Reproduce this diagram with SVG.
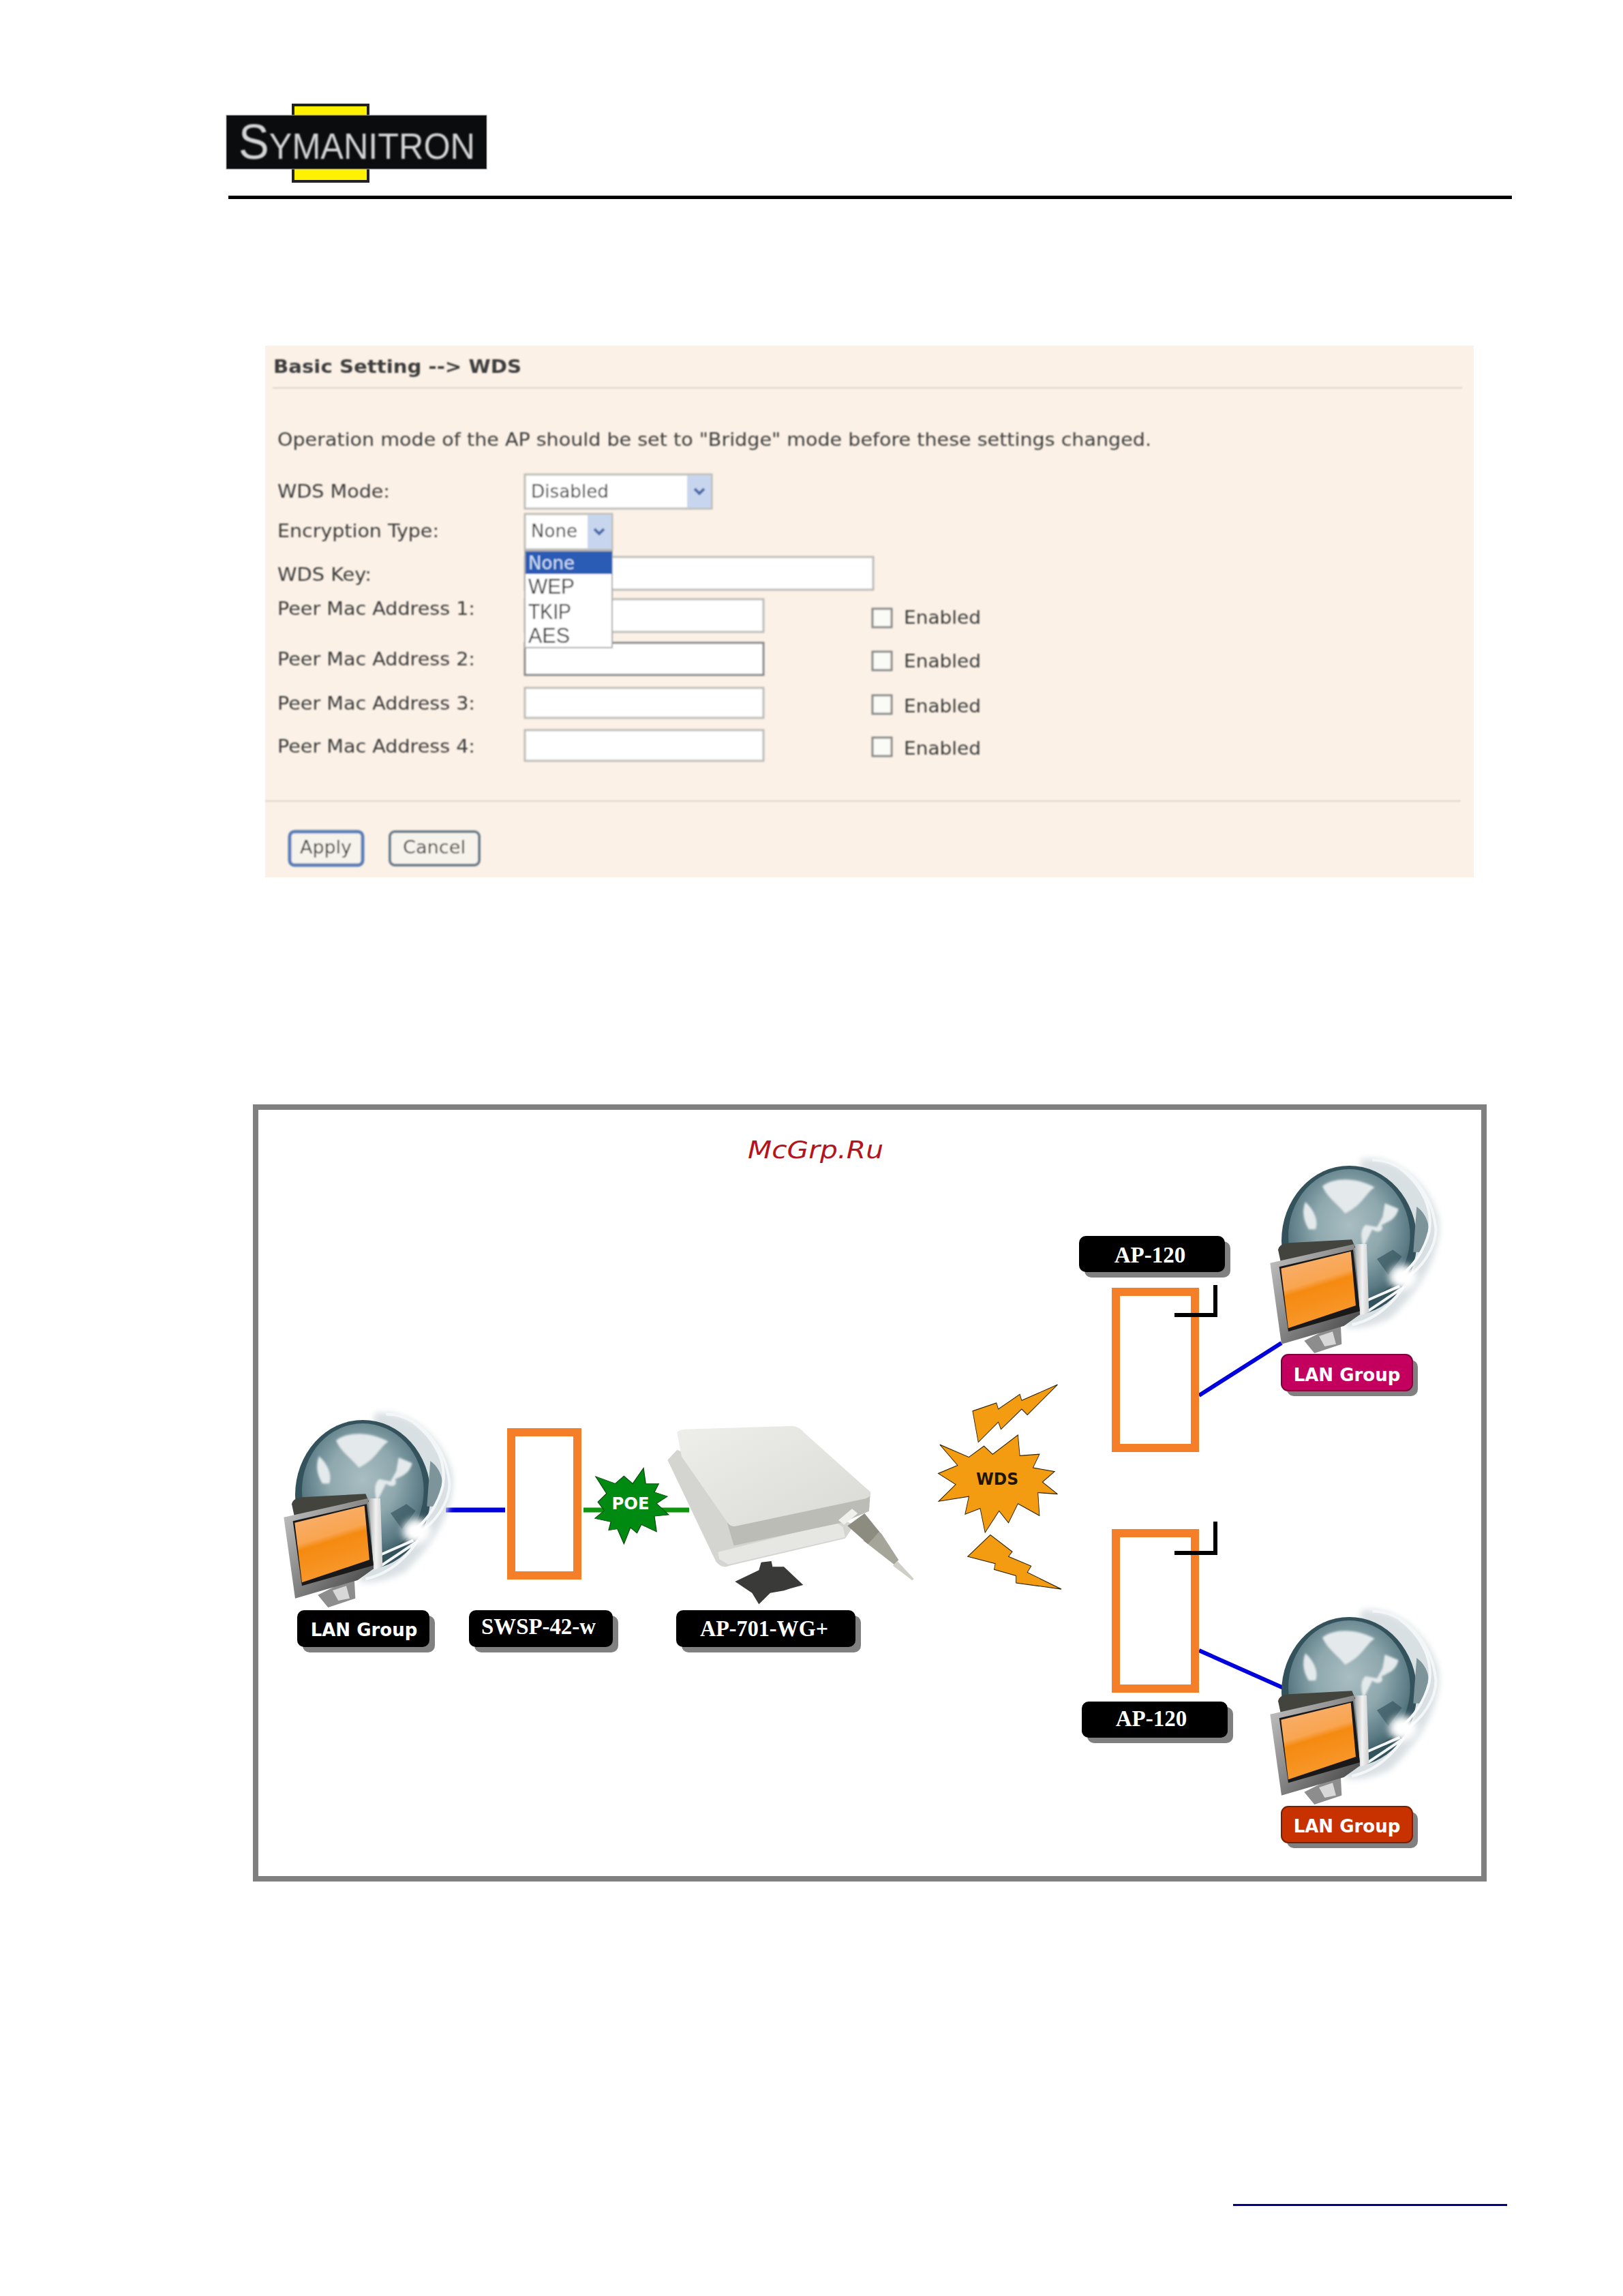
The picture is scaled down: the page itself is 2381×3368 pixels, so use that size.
<svg xmlns="http://www.w3.org/2000/svg" xmlns:xlink="http://www.w3.org/1999/xlink" width="2381" height="3368" viewBox="0 0 2381 3368">
<style>
.f{font-family:"DejaVu Sans",Verdana,sans-serif;font-size:27px;fill:#3c3c3c}
.o{font-family:"Liberation Sans",Arial,sans-serif;font-size:31px;fill:#333}
.in{fill:#fff;stroke:#bdbdb8;stroke-width:3}
.cb{fill:#fafaf6;stroke:#8a8a8a;stroke-width:3}
.btn{fill:#f6f3ec;stroke:#6d7f8c;stroke-width:4}
.lb{fill:#000}
.sh{fill:#808080}
.s{font-family:"Liberation Serif","Times New Roman",serif;font-weight:bold;font-size:33px;fill:#fff;text-anchor:middle}
.g{font-family:"DejaVu Sans",Verdana,sans-serif;font-weight:bold;font-size:26px;fill:#fff;text-anchor:middle}
.or{fill:#fff;stroke:#f57f28;stroke-width:12}
.wire{fill:none;stroke:#0000dc;stroke-width:6}
.corner{fill:none;stroke:#000;stroke-width:6}
.bolt{fill:#f39c12;stroke:#2b2000;stroke-width:1.6}
</style>
<defs>
<filter id="soft" x="-5%" y="-5%" width="110%" height="110%"><feGaussianBlur stdDeviation="1"/></filter>
<filter id="glow" x="-40%" y="-40%" width="180%" height="180%"><feGaussianBlur stdDeviation="14"/></filter>
<filter id="blur3" x="-20%" y="-20%" width="140%" height="140%"><feGaussianBlur stdDeviation="5"/></filter>
<filter id="blob" x="-60%" y="-60%" width="220%" height="220%"><feGaussianBlur stdDeviation="16"/></filter>
<radialGradient id="gl" cx="0.5" cy="0.42" r="0.62"><stop offset="0" stop-color="#a9bdc2"/><stop offset="0.45" stop-color="#8ea8ae"/><stop offset="0.8" stop-color="#5a7a84"/><stop offset="1" stop-color="#33525c"/></radialGradient>
<linearGradient id="scr" x1="0.2" y1="0" x2="0.5" y2="1"><stop offset="0" stop-color="#f8b070"/><stop offset="0.42" stop-color="#f9a550"/><stop offset="0.5" stop-color="#f58a10"/><stop offset="1" stop-color="#f89a30"/></linearGradient>
<linearGradient id="mon" x1="0" y1="0" x2="1" y2="1"><stop offset="0" stop-color="#c8c8c8"/><stop offset="0.6" stop-color="#777"/><stop offset="1" stop-color="#3a3a3a"/></linearGradient>
<linearGradient id="sil" x1="0" y1="0" x2="1" y2="0"><stop offset="0" stop-color="#b0b0b0"/><stop offset="0.5" stop-color="#f2f2f2"/><stop offset="1" stop-color="#cfcfcf"/></linearGradient>
<linearGradient id="ant" x1="0" y1="0" x2="1" y2="1"><stop offset="0" stop-color="#eeeeea"/><stop offset="1" stop-color="#d9d9d5"/></linearGradient>
<g id="lan-globe" transform="translate(1840,1670) scale(.3333)">
<path d="M470 90C600 70 760 170 810 350C830 470 760 640 600 790C520 830 450 840 400 830L470 90Z" fill="#d9e0e3" filter="url(#glow)"/>
<ellipse cx="418" cy="450" rx="298" ry="330" fill="#33525c"/>
<ellipse cx="418" cy="430" rx="268" ry="295" fill="url(#gl)"/>
<g fill="#e4eaec" filter="url(#blur3)">
<path d="M300 210C350 170 450 170 530 215C490 240 480 290 400 330C370 290 320 260 300 210Z"/>
<path d="M225 280C260 310 285 360 270 400L240 400C215 360 210 320 225 280Z"/>
<path d="M575 285L635 310C625 350 600 365 560 380C575 410 540 420 520 400L480 480C470 440 465 400 490 380L540 390L565 345Z"/>
</g>
<path d="M540 530L610 490L650 520L590 600Z" fill="#2f4c56" opacity=".6"/>
<path d="M715 300C770 340 790 420 740 500L700 500Z" fill="#7d949b"/>
<g fill="none" stroke="#f4f7f8" stroke-width="12">
<path d="M520 95C640 90 780 210 800 400C800 480 740 570 660 620"/>
<path d="M640 130C720 190 790 290 770 410C750 490 700 560 640 610"/>
<path d="M480 720L640 650M500 760L650 660M430 820C520 800 600 740 660 650"/>
</g>
<ellipse cx="655" cy="610" rx="62" ry="55" fill="#fff" filter="url(#blob)"/>
<polygon points="220,890 380,810 385,905 265,945" fill="#8d8d8d"/>
<polygon points="285,870 345,850 360,905 310,915" fill="#d8d8d8"/>
<path d="M105 490Q110 465 150 460L430 445L445 480L120 560Z" fill="#44443f"/>
<polygon points="445,465 495,465 505,765 465,780" fill="url(#sil)"/>
<polygon points="70,548 440,465 465,775 395,825 120,905" fill="url(#mon)"/>
<polygon points="110,565 435,490 465,760 150,850" fill="#191919"/>
<polygon points="118,572 425,497 447,735 150,835" fill="url(#scr)"/>
</g>
</defs>
<rect width="2381" height="3368" fill="#fff"/>

<g id="logo">
<rect x="430" y="154" width="110" height="112" fill="#fff200" stroke="#222" stroke-width="4"/>
<rect x="332" y="169" width="382" height="79" fill="#0b0c0e" stroke="#999" stroke-width="1"/>
<text x="350" y="233" fill="#d4d4d4" font-family="'Liberation Sans',Arial,sans-serif" textLength="347" lengthAdjust="spacingAndGlyphs" filter="url(#soft)"><tspan font-size="72">S</tspan><tspan font-size="54">YMANITRON</tspan></text>
</g>
<rect id="header-rule" x="335" y="287" width="1883" height="5" fill="#000"/>

<g id="wds-panel">
<rect x="389" y="507" width="1773" height="780" fill="#fbf1e6"/>
<g filter="url(#soft)">
<text x="401" y="547" class="f" style="font-weight:bold" textLength="364" lengthAdjust="spacingAndGlyphs">Basic Setting --&gt; WDS</text>
<line x1="400" y1="569" x2="2145" y2="569" stroke="#dcd5c8" stroke-width="2"/>
<text x="407" y="654" class="f" textLength="1282" lengthAdjust="spacingAndGlyphs">Operation mode of the AP should be set to "Bridge" mode before these settings changed.</text>
<text x="407" y="730" class="f" textLength="165" lengthAdjust="spacingAndGlyphs">WDS Mode:</text>
<text x="407" y="788" class="f" textLength="237" lengthAdjust="spacingAndGlyphs">Encryption Type:</text>
<text x="407" y="852" class="f" textLength="138" lengthAdjust="spacingAndGlyphs">WDS Key:</text>
<text x="407" y="902" class="f" textLength="290" lengthAdjust="spacingAndGlyphs">Peer Mac Address 1:</text>
<text x="407" y="976" class="f" textLength="290" lengthAdjust="spacingAndGlyphs">Peer Mac Address 2:</text>
<text x="407" y="1041" class="f" textLength="290" lengthAdjust="spacingAndGlyphs">Peer Mac Address 3:</text>
<text x="407" y="1104" class="f" textLength="290" lengthAdjust="spacingAndGlyphs">Peer Mac Address 4:</text>

<rect x="770" y="696" width="274" height="50" class="in"/>
<rect x="1008" y="697" width="35" height="48" fill="#c8d5ee"/>
<path d="M1019 717l7 7l7-7" fill="none" stroke="#4a6aa8" stroke-width="4"/>
<text x="779" y="730" class="f" textLength="114" lengthAdjust="spacingAndGlyphs">Disabled</text>

<rect x="770" y="754" width="128" height="52" class="in"/>
<rect x="862" y="755" width="35" height="50" fill="#c8d5ee"/>
<path d="M872 776l7 7l7-7" fill="none" stroke="#4a6aa8" stroke-width="4"/>
<text x="779" y="788" class="f" textLength="68" lengthAdjust="spacingAndGlyphs">None</text>

<rect x="770" y="817" width="511" height="48" class="in"/>
<rect x="770" y="879" width="350" height="48" class="in"/>
<rect x="770" y="943" width="350" height="47" class="in" style="stroke:#888"/>
<rect x="770" y="1009" width="350" height="44" class="in"/>
<rect x="770" y="1071" width="350" height="45" class="in"/>

<rect x="770" y="808" width="128" height="142" fill="#fff" stroke="#aaa" stroke-width="2"/>
<rect x="771" y="809" width="127" height="33" fill="#2a5bb5"/>
<text x="775" y="835" class="f" style="fill:#cfe0f5" textLength="68" lengthAdjust="spacingAndGlyphs">None</text>
<text x="775" y="871" class="o" textLength="68" lengthAdjust="spacingAndGlyphs">WEP</text>
<text x="775" y="908" class="o" textLength="63" lengthAdjust="spacingAndGlyphs">TKIP</text>
<text x="775" y="943" class="o" textLength="61" lengthAdjust="spacingAndGlyphs">AES</text>

<rect x="1280" y="893" width="28" height="27" class="cb"/>
<rect x="1280" y="956" width="28" height="27" class="cb"/>
<rect x="1280" y="1020" width="28" height="27" class="cb"/>
<rect x="1280" y="1082" width="28" height="27" class="cb"/>
<text x="1326" y="915" class="f" textLength="113" lengthAdjust="spacingAndGlyphs">Enabled</text>
<text x="1326" y="979" class="f" textLength="113" lengthAdjust="spacingAndGlyphs">Enabled</text>
<text x="1326" y="1045" class="f" textLength="113" lengthAdjust="spacingAndGlyphs">Enabled</text>
<text x="1326" y="1107" class="f" textLength="113" lengthAdjust="spacingAndGlyphs">Enabled</text>

<line x1="389" y1="1175" x2="2143" y2="1175" stroke="#dcd5c8" stroke-width="2"/>
<rect x="425" y="1220" width="107" height="49" rx="7" class="btn" style="stroke:#5b7fb8;stroke-width:5"/>
<text x="440" y="1252" class="f" textLength="76" lengthAdjust="spacingAndGlyphs">Apply</text>
<rect x="572" y="1220" width="131" height="49" rx="7" class="btn"/>
<text x="591" y="1252" class="f" textLength="92" lengthAdjust="spacingAndGlyphs">Cancel</text>
</g>
</g>

<rect id="frame" x="375" y="1624" width="1802" height="1132" fill="#fff" stroke="#808080" stroke-width="8"/>
<text id="watermark" x="1097" y="1699" font-family="'DejaVu Sans',Verdana,sans-serif" font-style="italic" font-size="36" fill="#b5141c" textLength="199" lengthAdjust="spacingAndGlyphs">McGrp.Ru</text>

<g id="connectors">
<line x1="654" y1="2215" x2="741" y2="2215" class="wire" style="stroke-width:7"/>
<line x1="856" y1="2215" x2="1011" y2="2215" fill="none" stroke="#109510" stroke-width="7"/>
<line x1="1759" y1="2047" x2="1880" y2="1970" class="wire"/>
<line x1="1759" y1="2421" x2="1885" y2="2477" class="wire"/>
</g>

<g id="lan-left">
<g transform="translate(-1447,373)"><use xlink:href="#lan-globe" href="#lan-globe"/></g>
<rect x="444" y="2370" width="194" height="54" rx="10" class="sh"/>
<rect x="436" y="2362" width="194" height="54" rx="10" class="lb"/>
<text x="534" y="2400" class="g">LAN Group</text>
</g>

<g id="swsp">
<rect x="750" y="2101" width="97" height="210" class="or"/>
<rect x="696" y="2370" width="211" height="54" rx="10" class="sh"/>
<rect x="688" y="2362" width="211" height="54" rx="10" class="lb"/>
<text x="790" y="2397" class="s" textLength="168" lengthAdjust="spacingAndGlyphs">SWSP-42-w</text>
</g>

<g id="poe">
<polygon transform="translate(370,2000) scale(.6378,.4149)" fill="#008a12" stroke="#0a4a0a" stroke-width="2" points="790,400 835,425 855,398 875,425 900,370 905,425 935,425 925,455 955,470 930,495 958,535 925,540 930,595 895,570 885,600 870,580 855,638 840,585 820,590 825,560 788,548 810,520 795,490 815,460"/>
<text x="925" y="2214" font-family="'DejaVu Sans',Verdana,sans-serif" font-weight="bold" font-size="24" fill="#fff" text-anchor="middle" textLength="55" lengthAdjust="spacingAndGlyphs">POE</text>
</g>

<g id="ap-701">
<g transform="translate(960,2070) scale(.3333)">
<polygon points="355,750 460,700 470,665 515,660 520,685 570,685 655,765 600,780 570,790 510,800 460,850 430,800" fill="#3a3a38"/>
<path d="M58 215L100 170L880 500L840 560L330 680Q295 695 270 660Z" fill="#d4d4d0"/>
<polygon points="280,620 800,490 830,510 840,555 325,675 285,650" fill="#e6e6e2"/>
<polygon points="320,490 950,365 945,440 830,490 350,592" fill="#bcbcb6"/>
<path d="M100 95Q100 85 130 80L610 65Q640 70 660 95L950 355Q958 375 930 385L365 505Q340 512 325 495L120 200Z" fill="url(#ant)"/>
<polygon points="810,480 870,430 895,450 835,500" fill="#efefec"/>
<polygon points="960,500 1000,540 1075,655 1055,675 920,570" fill="#a5a59a"/>
<polygon points="850,505 925,450 990,530 940,585" fill="#8c8c80"/>
<polygon points="1070,660 1142,738 1135,745 1050,680" fill="#cfcfc8"/>
</g>
<rect x="1000" y="2370" width="263" height="54" rx="10" class="sh"/>
<rect x="992" y="2362" width="263" height="54" rx="10" class="lb"/>
<text x="1121" y="2400" class="s" textLength="188" lengthAdjust="spacingAndGlyphs">AP-701-WG+</text>
</g>

<g id="wds">
<g transform="translate(1330,1660) scale(.5537,.7042)">
<polygon class="bolt" points="175,582 238,565 243,578 300,547 305,560 400,527 320,590 305,578 250,620 243,605 190,647"/>
<polygon class="bolt" points="88,652 165,678 205,655 228,672 295,632 300,675 352,672 335,700 392,708 360,730 400,755 348,752 352,800 295,775 270,815 245,790 208,835 195,785 155,797 165,760 85,770 130,735 84,712 135,695"/>
<polygon class="bolt" points="222,840 280,875 270,885 330,905 320,918 410,953 290,940 290,925 232,912 235,900 162,885"/>
</g>
<text x="1463" y="2178" font-family="'DejaVu Sans',Verdana,sans-serif" font-weight="bold" font-size="24" fill="#201500" text-anchor="middle" textLength="62" lengthAdjust="spacingAndGlyphs">WDS</text>
</g>

<g id="ap-120-top">
<rect x="1591" y="1821" width="214" height="53" rx="10" class="sh"/>
<rect x="1583" y="1813" width="214" height="53" rx="10" class="lb"/>
<text x="1687" y="1852" class="s">AP-120</text>
<rect x="1637" y="1895" width="116" height="229" class="or"/>
<path d="M1723 1929H1783V1885" class="corner"/>
</g>

<g id="ap-120-bottom">
<rect x="1637" y="2249" width="116" height="228" class="or"/>
<path d="M1723 2278H1783V2232" class="corner"/>
<rect x="1595" y="2504" width="214" height="53" rx="10" class="sh"/>
<rect x="1587" y="2496" width="214" height="53" rx="10" class="lb"/>
<text x="1689" y="2532" class="s">AP-120</text>
</g>

<g id="lan-top">
<use xlink:href="#lan-globe" href="#lan-globe"/>
<rect x="1888" y="1995" width="192" height="53" rx="10" class="sh"/>
<rect x="1880" y="1987" width="192" height="53" rx="10" fill="#c4005e" stroke="#7a003a" stroke-width="2"/>
<text x="1976" y="2026" class="g">LAN Group</text>
</g>

<g id="lan-bottom">
<g transform="translate(0,662)"><use xlink:href="#lan-globe" href="#lan-globe"/></g>
<rect x="1888" y="2658" width="192" height="53" rx="10" class="sh"/>
<rect x="1880" y="2650" width="192" height="53" rx="10" fill="#c83200" stroke="#7a2000" stroke-width="2"/>
<text x="1976" y="2688" class="g">LAN Group</text>
</g>

<rect id="footer-rule" x="1809" y="3233" width="402" height="3" fill="#00008b"/>
</svg>
